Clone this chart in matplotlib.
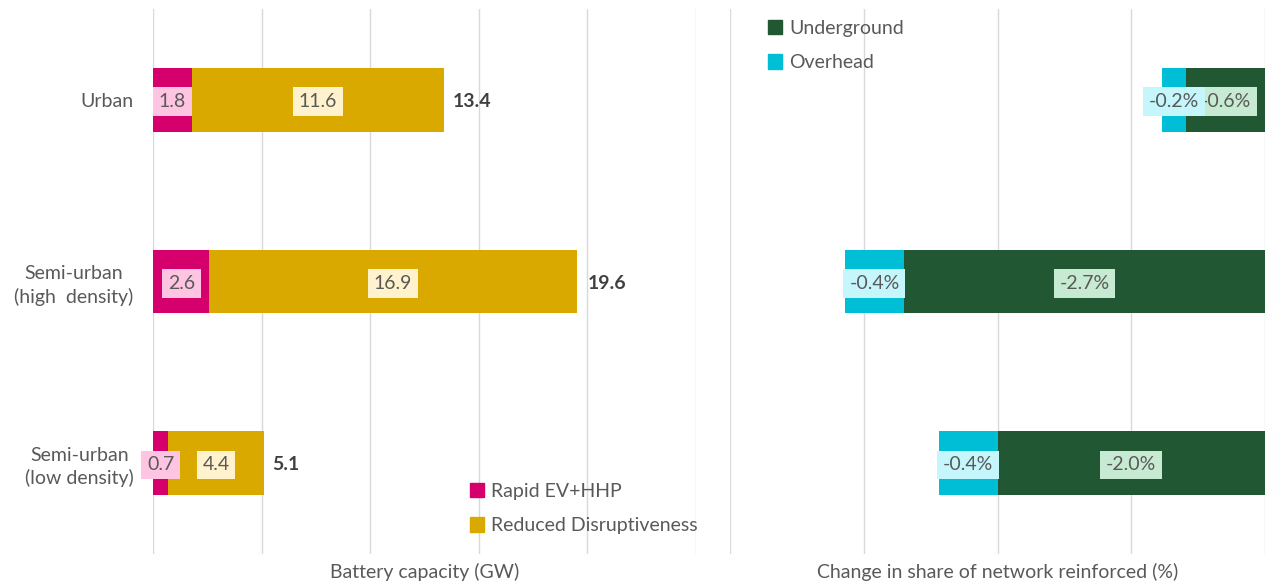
import matplotlib
matplotlib.use("Agg")
import matplotlib.pyplot as plt
from matplotlib.patches import Patch

categories = ["Urban", "Semi-urban\n(high  density)", "Semi-urban\n(low density)"]
rapid = [1.8, 2.6, 0.7]
reduced = [11.6, 16.9, 4.4]
totals = [13.4, 19.6, 5.1]
overhead = [-0.18, -0.44, -0.44]
underground = [-0.59, -2.7, -2.0]

C_RAPID = "#D6006C"
C_RED = "#D9A900"
C_UG = "#215732"
C_OH = "#00BED6"
BG_RAPID = "#FFC4E2"
BG_RED = "#FFF2CC"
BG_UG = "#C7EAD2"
BG_OH = "#C4F6FC"
TXT = "#595959"

plt.rcParams["font.family"] = ["Lato", "DejaVu Sans"]

W, H = 1268, 585
fig = plt.figure(figsize=(W / 100, H / 100), dpi=100)
ax1 = fig.add_axes([153 / W, 1 - 554 / H, (696 - 153) / W, 545 / H])
ax2 = fig.add_axes([730 / W, 1 - 554 / H, (1265 - 730) / W, 545 / H])

y = list(range(len(categories)))
bh = 0.35
FS = 14
BOX = "square,pad=0.3"

ax1.barh(y, rapid, height=bh, color=C_RAPID, label="Rapid EV+HHP")
ax1.barh(y, reduced, left=rapid, height=bh, color=C_RED, label="Reduced Disruptiveness")
for i in y:
    ax1.text(rapid[i] / 2, i + 0.01, f"{rapid[i]:.1f}", ha="center", va="center", fontsize=FS, color=TXT,
             bbox=dict(boxstyle=BOX, fc=BG_RAPID, ec="none"))
    ax1.text(rapid[i] + reduced[i] / 2, i + 0.01, f"{reduced[i]:.1f}", ha="center", va="center", fontsize=FS,
             color=TXT, bbox=dict(boxstyle=BOX, fc=BG_RED, ec="none"))
    ax1.text(totals[i] + 0.4, i + 0.01, f"{totals[i]:.1f}", ha="left", va="center", fontsize=FS, color="#404040",
             fontweight="bold")
ax1.set_xlim(0, 25)
ax1.set_ylim(2.5, -0.5)
ax1.set_xticks([0, 5, 10, 15, 20, 25])
ax1.set_xticklabels([])
ax1.set_yticks(y)
ax1.set_yticklabels(categories, fontsize=FS, color=TXT, ha="right", multialignment="center", linespacing=1.35)
ax1.tick_params(axis="y", length=0, pad=14)
ax1.tick_params(axis="x", length=0)
ax1.grid(axis="x", color="#D9D9D9", lw=1)
ax1.set_axisbelow(True)
for s in ax1.spines.values():
    s.set_visible(False)
ax1.set_xlabel("Battery capacity (GW)", fontsize=FS, color=TXT, labelpad=3)
ax1.legend(handles=[Patch(color=C_RAPID, label="Rapid EV+HHP"), Patch(color=C_RED, label="Reduced Disruptiveness")],
           loc="upper left", bbox_to_anchor=(462 / W, 1 - 475 / H), bbox_transform=fig.transFigure,
           frameon=False, fontsize=FS, labelcolor=TXT, handlelength=0.75, handleheight=0.75,
           handletextpad=0.35, labelspacing=0.9, borderaxespad=0)

ax2.barh(y, underground, height=bh, color=C_UG, label="Underground")
ax2.barh(y, overhead, left=underground, height=bh, color=C_OH, label="Overhead")
for i in y:
    ax2.text(underground[i] / 2, i + 0.01, f"{underground[i]:.1f}%", ha="center", va="center", fontsize=FS,
             color=TXT, bbox=dict(boxstyle=BOX, fc=BG_UG, ec="none"), zorder=3)
    ax2.text(underground[i] + overhead[i] / 2, i + 0.01, f"{overhead[i]:.1f}%", ha="center", va="center",
             fontsize=FS, color=TXT, bbox=dict(boxstyle=BOX, fc=BG_OH, ec="none"), zorder=4)
ax2.set_xlim(-4, 0)
ax2.set_ylim(2.5, -0.5)
ax2.set_xticks([-4, -3, -2, -1, 0])
ax2.set_xticklabels([])
ax2.set_yticks([])
ax2.tick_params(axis="x", length=0)
ax2.grid(axis="x", color="#D9D9D9", lw=1)
ax2.set_axisbelow(True)
for s in ax2.spines.values():
    s.set_visible(False)
ax2.set_xlabel("Change in share of network reinforced (%)", fontsize=FS, color=TXT, labelpad=3)
ax2.legend(handles=[Patch(color=C_UG, label="Underground"), Patch(color=C_OH, label="Overhead")],
           loc="upper left", bbox_to_anchor=(760 / W, 1 - 12 / H), bbox_transform=fig.transFigure,
           frameon=False, fontsize=FS, labelcolor=TXT, handlelength=0.75, handleheight=0.75,
           handletextpad=0.35, labelspacing=0.9, borderaxespad=0)

fig.savefig("out.png", dpi=100)
